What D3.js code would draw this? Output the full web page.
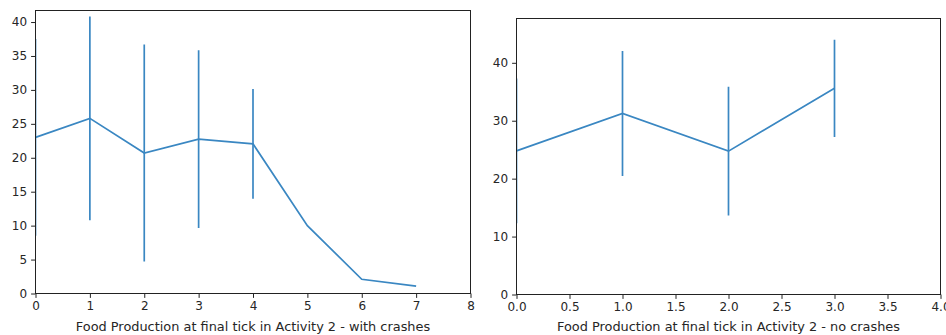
<!DOCTYPE html>
<html><head><meta charset="utf-8">
<script src="https://cdn.jsdelivr.net/npm/d3@7"></script>
<style>
body{margin:0;background:#fff;}
svg{display:block;}
text{font-family:"DejaVu Sans",sans-serif;fill:#262626;}
</style></head>
<body>
<svg id="c" width="946" height="335"></svg>
<script>
// Left chart: with crashes
const leftX = [0, 1, 2, 3, 4, 5, 6, 7];
const leftMean = [23.0, 25.8, 20.7, 22.75, 22.05, 10.0, 2.1, 1.1];
const leftErr = [14.5, 15.0, 16.0, 13.1, 8.1, 0, 0, 0];
const leftXTicks = [0, 1, 2, 3, 4, 5, 6, 7, 8];
const leftYTicks = [0, 5, 10, 15, 20, 25, 30, 35, 40];
const leftLabel = "Food Production at final tick in Activity 2 - with crashes";

// Right chart: no crashes
const rightX = [0, 1, 2, 3];
const rightMean = [24.8, 31.25, 24.75, 35.6];
const rightErr = [12.5, 10.8, 11.1, 8.4];
const rightXTicks = [0, 0.5, 1, 1.5, 2, 2.5, 3, 3.5, 4];
const rightYTicks = [0, 10, 20, 30, 40];
const rightLabel = "Food Production at final tick in Activity 2 - no crashes";

const svg = d3.select("#c");
const color = "#3a87c2";
const FS = "12px";
const LFS = "12.9px";

function panel(id, cfg) {
  const x = d3.scaleLinear().domain(cfg.xDomain).range([cfg.left, cfg.right]);
  const y = d3.scaleLinear().domain(cfg.yDomain).range([cfg.bottom, cfg.top]);
  const g = svg.append("g");
  g.append("clipPath").attr("id", id).append("rect")
    .attr("x", cfg.left).attr("y", cfg.top)
    .attr("width", cfg.right - cfg.left).attr("height", cfg.bottom - cfg.top);
  const data = cfg.xs.map((v, i) => ({x: v, m: cfg.mean[i], e: cfg.err[i]}));
  const d = g.append("g").attr("clip-path", `url(#${id})`);
  d.append("path").datum(data)
    .attr("fill", "none").attr("stroke", color).attr("stroke-width", 1.7)
    .attr("d", d3.line().x(p => x(p.x)).y(p => y(p.m)));
  d.selectAll("line.err").data(data.filter(p => p.e > 0)).join("line")
    .attr("class", "err")
    .attr("x1", p => x(p.x)).attr("x2", p => x(p.x))
    .attr("y1", p => y(p.m - p.e)).attr("y2", p => y(p.m + p.e))
    .attr("stroke", color).attr("stroke-width", 1.7);

  const xa = g.append("g").attr("transform", `translate(0,${cfg.bottom})`)
    .call(d3.axisBottom(x).tickValues(cfg.xTicks).tickSize(4.4).tickPadding(3.5)
      .tickFormat(cfg.xFmt));
  const ya = g.append("g").attr("transform", `translate(${cfg.left},0)`)
    .call(d3.axisLeft(y).tickValues(cfg.yTicks).tickSize(4.4).tickPadding(4)
      .tickFormat(d3.format("d")));
  [xa, ya].forEach(a => {
    a.select(".domain").remove();
    a.selectAll(".tick line").attr("stroke", "#222").attr("stroke-width", 1);
    a.selectAll(".tick text").attr("font-size", FS).style("fill", "#262626")
      .attr("font-family", "DejaVu Sans");
  });
  g.append("rect").attr("x", cfg.left).attr("y", cfg.top)
    .attr("width", cfg.right - cfg.left).attr("height", cfg.bottom - cfg.top)
    .attr("fill", "none").attr("stroke", "#222").attr("stroke-width", 1);
  g.append("text").attr("x", (cfg.left + cfg.right) / 2).attr("y", 331)
    .attr("text-anchor", "middle").attr("font-size", LFS).text(cfg.label);
}

panel("clipL", {
  xs: leftX, mean: leftMean, err: leftErr,
  xDomain: [0, 8], yDomain: [0, 41.7],
  left: 35.5, right: 470.5, top: 10.5, bottom: 293.5,
  xTicks: leftXTicks, yTicks: leftYTicks, xFmt: d3.format("d"), label: leftLabel
});
panel("clipR", {
  xs: rightX, mean: rightMean, err: rightErr,
  xDomain: [0, 4], yDomain: [0, 47.65],
  left: 516.5, right: 940.5, top: 18.5, bottom: 294.5,
  xTicks: rightXTicks, yTicks: rightYTicks, xFmt: d3.format(".1f"), label: rightLabel
});
</script>
</body></html>
